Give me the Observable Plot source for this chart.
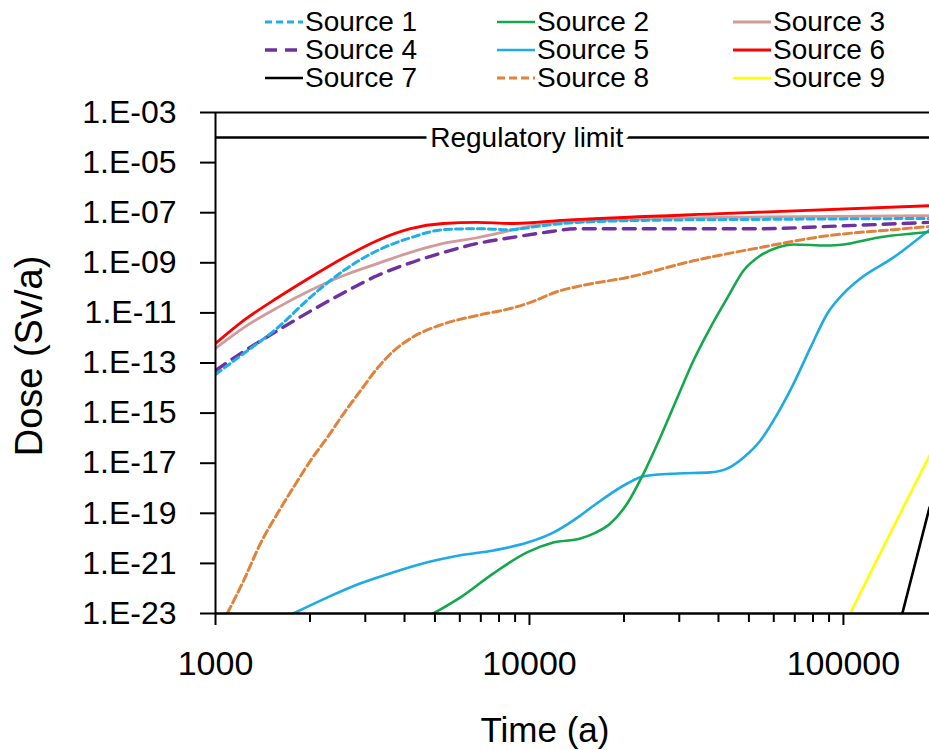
<!DOCTYPE html>
<html>
<head>
<meta charset="utf-8">
<script src="https://cdn.jsdelivr.net/npm/d3@7"></script>
<script src="https://cdn.jsdelivr.net/npm/@observablehq/plot@0.6"></script>
<style>
  html, body { margin: 0; padding: 0; background: #fff; }
  body { width: 929px; height: 750px; overflow: hidden; font-family: "Liberation Sans", Arial, sans-serif; position: relative; }
  #legend { position: relative; width: 929px; height: 100px; }
  #legend .item { position: absolute; height: 28px; display: flex; align-items: center; }
  #legend .item span { font-size: 28px; color: #000; line-height: 28px; margin-left: 2px; }
  #chart svg { display: block; }
  .title { position: absolute; white-space: nowrap; color: #000; line-height: 1; }
  #xtitle { left: 545px; top: 729px; font-size: 35px; transform: translate(-50%, -50%); }
  #ytitle { left: 29px; top: 356px; font-size: 38px; transform: translate(-50%, -50%) rotate(-90deg); }
</style>
</head>
<body>
<div id="legend"></div>
<div id="chart"></div>
<div id="xtitle" class="title"></div>
<div id="ytitle" class="title"></div>
<script>
// ---------- data (time in years, dose in Sv/a) ----------
const sourceNames = ["Source 1","Source 2","Source 3","Source 4","Source 5","Source 6","Source 7","Source 8","Source 9"];

const source1 = [[1000,3.5e-14],[1230,2.4e-13],[1580,2.6e-12],[2000,4.1e-11],[2560,4.9e-10],[3280,3.1e-9],[4180,1.0e-8],[5320,2.1e-8],[6820,2.3e-8],[8690,2.1e-8],[11100,3.1e-8],[14200,4.1e-8],[25000,5.0e-8],[54400,5.4e-8],[188000,5.9e-8]];
const source2 = [[4940,1e-23],[6030,4.4e-23],[7680,4.0e-22],[9860,2.8e-21],[11900,6.8e-21],[14520,9.8e-21],[16000,1.55e-20],[18100,3.9e-20],[20500,2.5e-19],[23100,3.9e-18],[26100,1.07e-16],[29600,4.2e-15],[33300,1.26e-13],[37700,2.6e-12],[42750,4.1e-11],[48100,4.9e-10],[54400,1.95e-9],[61700,4.1e-9],[69400,5.4e-9],[88900,4.9e-9],[100000,5.4e-9],[128000,1.0e-8],[188000,1.7e-8]];
const source3 = [[1000,3.8e-13],[1230,2.6e-12],[1580,1.66e-11],[2000,7.8e-11],[2560,3.1e-10],[3280,9.3e-10],[4180,2.6e-9],[5320,5.9e-9],[6820,1.0e-8],[8690,1.95e-8],[11100,3.7e-8],[14200,4.5e-8],[35000,6.4e-8],[188000,7.7e-8]];
const source4 = [[1000,5.0e-14],[1230,2.9e-13],[1580,2.0e-12],[2000,1.15e-11],[2560,6.4e-11],[3280,3.1e-10],[4180,1.0e-9],[5320,2.6e-9],[6820,5.9e-9],[8690,1.0e-8],[11100,1.6e-8],[14200,2.3e-8],[54400,2.3e-8],[100000,3.0e-8],[188000,4.1e-8]];
const source5 = [[1770,1e-23],[2275,4.4e-23],[2900,1.6e-22],[3690,4.4e-22],[4730,1.1e-21],[6030,2.1e-21],[7680,3.3e-21],[9860,6.8e-21],[11900,1.7e-20],[14520,8.1e-20],[16000,2.0e-19],[20500,1.55e-18],[23100,3.0e-18],[29600,3.9e-18],[37700,4.3e-18],[42750,6.2e-18],[48100,1.7e-17],[54400,8.1e-17],[61700,9.6e-16],[69400,1.5e-14],[78600,4.2e-13],[88900,9.5e-12],[100000,5.9e-11],[113000,2.3e-10],[144000,1.6e-9],[188000,2.1e-8]];
const source6 = [[1000,6.0e-13],[1230,5.0e-12],[1580,4.1e-11],[2000,2.6e-10],[2560,1.6e-9],[3280,7.8e-9],[4180,2.3e-8],[5320,3.7e-8],[6820,4.1e-8],[8690,3.7e-8],[10500,4.1e-8],[12500,4.9e-8],[14500,5.4e-8],[42750,9.4e-8],[188000,1.9e-7]];
const source7 = [[154000,1e-23],[188000,1.7e-19]];
const source8 = [[1090,1.0e-23],[1230,2.1e-22],[1390,6.2e-21],[1575,9.8e-20],[1770,1.07e-18],[2010,1.3e-17],[2275,1.1e-16],[2560,9.6e-16],[2900,8.0e-15],[3280,6.3e-14],[3690,3.0e-13],[4180,9.5e-13],[5320,3.6e-12],[6820,7.9e-12],[8690,1.5e-11],[9860,2.4e-11],[12560,7.8e-11],[14520,1.2e-10],[20500,2.6e-10],[33300,1.2e-9],[54400,4.1e-9],[88900,1.2e-8],[144000,2.1e-8],[188000,2.8e-8]];
const source9 = [[105000,1e-23],[140000,1.35e-20],[188000,2.0e-17]];

const sources = [source1, source2, source3, source4, source5, source6, source7, source8, source9];

const regulatoryLimit = 1e-4;
const regulatoryLabel = "Regulatory limit";
const regulatoryLabelTime = 9800;

const timeDomain = [1000, 188000];
const doseDomain = [1e-23, 1e-3];
const xMajorTicks = [1000, 10000, 100000];
const xMajorLabels = ["1000", "10000", "100000"];
const xMinorTicks = [2000,3000,4000,5000,6000,7000,8000,9000,20000,30000,40000,50000,60000,70000,80000,90000];
const yTicks = [1e-3,1e-5,1e-7,1e-9,1e-11,1e-13,1e-15,1e-17,1e-19,1e-21,1e-23];
const yTickLabels = ["1.E-03","1.E-05","1.E-07","1.E-09","1.E-11","1.E-13","1.E-15","1.E-17","1.E-19","1.E-21","1.E-23"];
const xTitle = "Time (a)";
const yTitle = "Dose (Sv/a)";

// ---------- styles ----------
const colors = ["#1eaee8","#14a84c","#d39a9a","#7030a0","#1eaae6","#ff0000","#000000","#e0823c","#ffff00"];
const dashes = ["7,4", null, null, "12,8", null, null, null, "8,4", null];
const widths = [3, 2.6, 2.8, 3.4, 2.6, 2.8, 2.6, 3, 2.6];
const drawOrder = [8, 6, 4, 1, 7, 3, 2, 0, 5];

// ---------- table ----------
const rows = [];
sources.forEach((pts, i) => pts.forEach(([t, d]) => rows.push({source: sourceNames[i], time: t, dose: d})));

// ---------- legend ----------
const legendCols = [265, 497, 733];
const legendRows = [8, 36, 64];
const legend = document.getElementById("legend");
sourceNames.forEach((name, i) => {
  const col = i % 3, row = Math.floor(i / 3);
  const item = document.createElement("div");
  item.className = "item";
  item.style.left = legendCols[col] + "px";
  item.style.top = legendRows[row] + "px";
  const dash = dashes[i] ? `stroke-dasharray="${dashes[i]}"` : "";
  item.innerHTML = `<svg width="38" height="10"><line x1="0" x2="38" y1="5" y2="5" stroke="${colors[i]}" stroke-width="${widths[i]}" ${dash}/></svg><span>${name}</span>`;
  legend.appendChild(item);
});
document.getElementById("xtitle").textContent = xTitle;
document.getElementById("ytitle").textContent = yTitle;

// ---------- chart ----------
const yLabelOf = new Map(yTicks.map((v, i) => [v, yTickLabels[i]]));
const xLabelOf = new Map(xMajorTicks.map((v, i) => [v, xMajorLabels[i]]));

const lineMarks = drawOrder.map(i => Plot.line(rows.filter(r => r.source === sourceNames[i]), {
  x: "time", y: "dose",
  stroke: colors[i], strokeWidth: widths[i],
  strokeDasharray: dashes[i] || undefined,
  curve: "monotone-x", clip: true
}));

const chart = Plot.plot({
  width: 929,
  height: 650,
  marginTop: 12,
  marginBottom: 137,
  marginLeft: 215,
  marginRight: 0,
  style: {fontFamily: "Liberation Sans, Arial, sans-serif", color: "#000", background: "#fff", overflow: "visible"},
  x: {type: "log", domain: timeDomain},
  y: {type: "log", domain: doseDomain},
  marks: [
    Plot.ruleY([regulatoryLimit], {x1: timeDomain[0], x2: timeDomain[1], stroke: "#000", strokeWidth: 2.5}),
    Plot.text([regulatoryLabel], {x: regulatoryLabelTime, y: regulatoryLimit, text: d => d, fontSize: 28, fill: "#000", stroke: "#fff", strokeWidth: 12, paintOrder: "stroke"}),
    ...lineMarks,
    Plot.ruleY([doseDomain[1]], {stroke: "#000", strokeWidth: 2}),
    Plot.ruleY([doseDomain[0]], {stroke: "#000", strokeWidth: 2.5}),
    Plot.ruleX([timeDomain[0]], {stroke: "#000", strokeWidth: 2}),
    Plot.axisY({ticks: yTicks, tickSize: 15, tickPadding: 24, tickFormat: d => yLabelOf.get(d), fontSize: 32, strokeWidth: 2, label: null}),
    Plot.axisX({ticks: xMinorTicks, tickSize: 9, tickFormat: () => "", strokeWidth: 2, label: null}),
    Plot.axisX({ticks: xMajorTicks, tickSize: 12, tickPadding: 25, tickFormat: d => xLabelOf.get(d), fontSize: 34, strokeWidth: 2, label: null})
  ]
});
document.getElementById("chart").appendChild(chart);
</script>
</body>
</html>
